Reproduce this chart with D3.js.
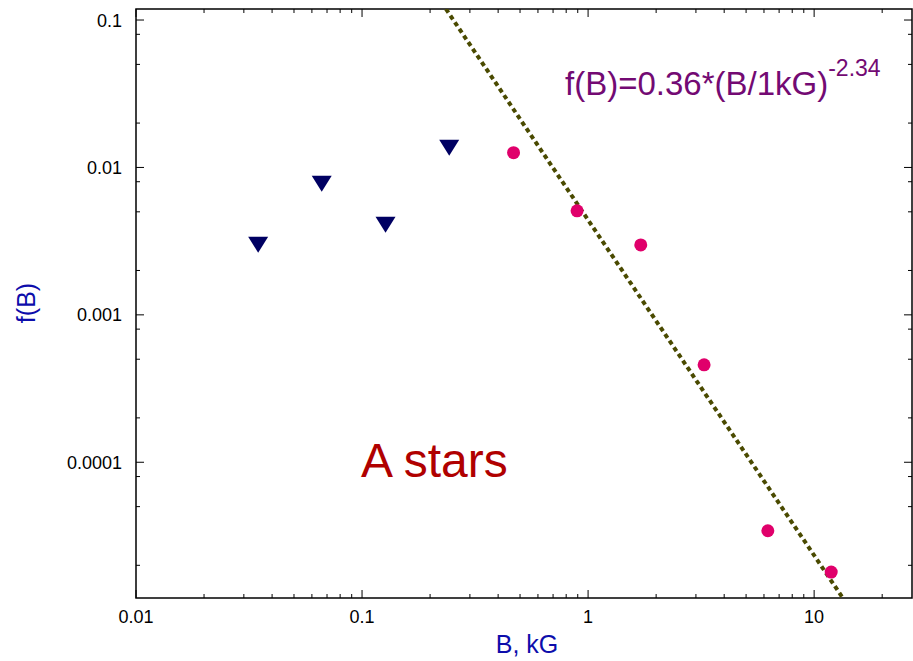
<!DOCTYPE html>
<html>
<head>
<meta charset="utf-8">
<script src="https://cdn.jsdelivr.net/npm/d3@7"></script>
<style>
  html, body { margin: 0; padding: 0; background: #fff; }
  svg { display: block; font-family: "Liberation Sans", Arial, Helvetica, sans-serif; }
</style>
</head>
<body>
<svg id="chart" width="913" height="661"></svg>
<script>
// ---- data ----
const triB = [0.0347, 0.0663, 0.127, 0.243];
const triF = [0.00299, 0.00775, 0.00408, 0.0136];
const circB = [0.468, 0.894, 1.71, 3.26, 6.24, 11.9];
const circF = [0.0126, 0.00508, 0.00298, 4.58e-4, 3.43e-5, 1.80e-5];
const fitB = [0.235, 13.4];
const fitF = [0.1188, 1.2e-5];
const xTickVals = [0.01, 0.1, 1, 10];
const xTickLabels = ["0.01", "0.1", "1", "10"];
const yTickVals = [0.1, 0.01, 0.001, 0.0001];
const yTickLabels = ["0.1", "0.01", "0.001", "0.0001"];
const xMinorMult = [2, 3, 4, 5, 6, 7, 8, 9];
const yMinorMult = [2, 5, 8];
const xDomain = [0.01, 27.1];
const yDomain = [1.2e-5, 0.1188];

// ---- layout ----
const svg = d3.select("#chart");
const L = 136, T = 9, W = 776, H = 589;
const x = d3.scaleLog().domain(xDomain).range([L, L + W]);
const y = d3.scaleLog().domain(yDomain).range([T + H, T]);

svg.append("defs").append("clipPath").attr("id", "clip")
  .append("rect").attr("x", L).attr("y", T).attr("width", W).attr("height", H);

// minor tick values
const xMinor = [], yMinor = [];
[0.01, 0.1, 1, 10].forEach(d => xMinorMult.forEach(m => { const v = d * m; if (v > xDomain[0] && v < xDomain[1]) xMinor.push(v); }));
[0.00001, 0.0001, 0.001, 0.01, 0.1].forEach(d => yMinorMult.forEach(m => { const v = d * m; if (v > yDomain[0] && v < yDomain[1]) yMinor.push(v); }));

const tk = svg.append("g").attr("stroke", "#000").attr("stroke-width", 1);
xTickVals.forEach(v => {
  tk.append("line").attr("x1", x(v)).attr("x2", x(v)).attr("y1", T + H).attr("y2", T + H - 8);
  tk.append("line").attr("x1", x(v)).attr("x2", x(v)).attr("y1", T).attr("y2", T + 8);
});
xMinor.forEach(v => {
  tk.append("line").attr("x1", x(v)).attr("x2", x(v)).attr("y1", T + H).attr("y2", T + H - 4);
  tk.append("line").attr("x1", x(v)).attr("x2", x(v)).attr("y1", T).attr("y2", T + 4);
});
yTickVals.forEach(v => {
  tk.append("line").attr("y1", y(v)).attr("y2", y(v)).attr("x1", L).attr("x2", L + 8);
  tk.append("line").attr("y1", y(v)).attr("y2", y(v)).attr("x1", L + W).attr("x2", L + W - 8);
});
yMinor.forEach(v => {
  tk.append("line").attr("y1", y(v)).attr("y2", y(v)).attr("x1", L).attr("x2", L + 4);
  tk.append("line").attr("y1", y(v)).attr("y2", y(v)).attr("x1", L + W).attr("x2", L + W - 4);
});

// border
svg.append("rect").attr("x", L).attr("y", T).attr("width", W).attr("height", H)
  .attr("fill", "none").attr("stroke", "#000").attr("stroke-width", 1.5);

// tick labels
svg.append("g").selectAll("text").data(xTickVals).join("text")
  .attr("x", d => x(d)).attr("y", 623).attr("text-anchor", "middle")
  .attr("font-size", 18).attr("fill", "#000")
  .text((d, i) => xTickLabels[i]);
svg.append("g").selectAll("text").data(yTickVals).join("text")
  .attr("x", 122).attr("y", d => y(d) + 6.5).attr("text-anchor", "end")
  .attr("font-size", 18).attr("fill", "#000")
  .text((d, i) => yTickLabels[i]);

// axis titles
svg.append("text").attr("x", 527).attr("y", 653).attr("text-anchor", "middle")
  .attr("font-size", 25).attr("fill", "#0d0dab").text("B, kG");
svg.append("text").attr("transform", "translate(35,303) rotate(-90)")
  .attr("text-anchor", "middle").attr("font-size", 25).attr("fill", "#0d0dab").text("f(B)");

// fit line
const plot = svg.append("g").attr("clip-path", "url(#clip)");
plot.append("path")
  .datum(fitB.map((b, i) => [b, fitF[i]]))
  .attr("d", d3.line().x(d => x(d[0])).y(d => y(d[1])))
  .attr("fill", "none").attr("stroke", "#4a4a00").attr("stroke-width", 4)
  .attr("stroke-dasharray", "4.5,3.5");

// triangles
plot.selectAll("path.tri").data(triB.map((b, i) => [b, triF[i]])).join("path")
  .attr("class", "tri")
  .attr("d", "M-10,-8L10,-8L0,8Z")
  .attr("transform", d => `translate(${x(d[0])},${y(d[1])})`)
  .attr("fill", "#000062");

// circles
plot.selectAll("circle").data(circB.map((b, i) => [b, circF[i]])).join("circle")
  .attr("cx", d => x(d[0])).attr("cy", d => y(d[1])).attr("r", 6.5)
  .attr("fill", "#e0006b");

// annotations
const f = svg.append("text").attr("x", 565).attr("y", 95).attr("fill", "#730a73").attr("font-size", 33);
f.append("tspan").text("f(B)=0.36*(B/1kG)");
f.append("tspan").attr("font-size", 23).attr("dy", -19).text("-2.34");

svg.append("text").attr("x", 361).attr("y", 477).attr("fill", "#b00000")
  .attr("font-size", 48).text("A stars");
</script>
</body>
</html>
